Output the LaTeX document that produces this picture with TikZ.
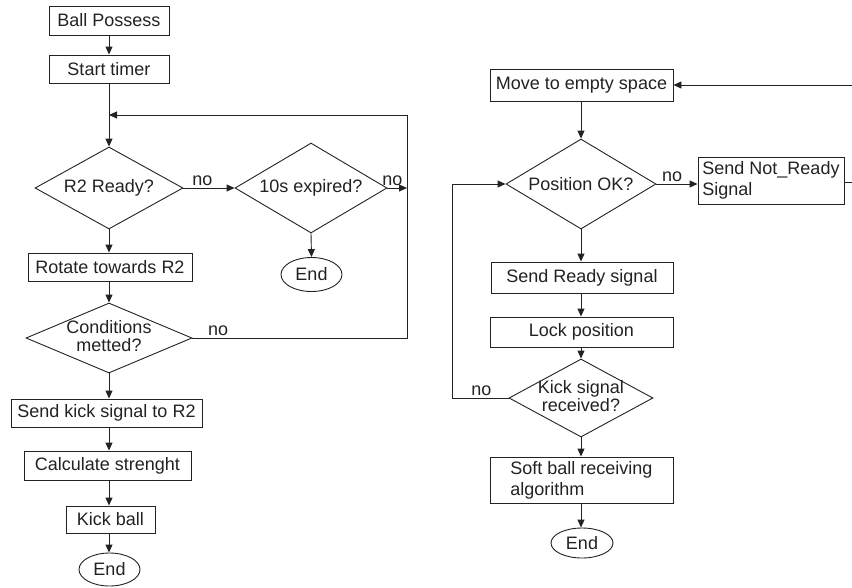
\documentclass[tikz,border=0pt]{standalone}
\usepackage{fontspec}
\setmainfont{Liberation Sans}
\usetikzlibrary{shapes.geometric,arrows.meta}
\definecolor{ink}{HTML}{222222}
\begin{document}
\begin{tikzpicture}[x=1pt,y=-1pt,
  line width=0.9pt, draw=ink, color=ink,
  every node/.style={font=\fontsize{18}{21}\selectfont, text=ink},
  box/.style={draw, rectangle, inner sep=0pt},
  dec/.style={draw, diamond, aspect=2, inner sep=0pt},
  term/.style={draw, ellipse, inner sep=0pt},
  arr/.style={-{Triangle[length=8pt,width=7pt]}},
  lbl/.style={above, inner sep=2pt}]
\useasboundingbox (0,0) rectangle (852,587);
% left flow
\node[box, minimum width=120pt, minimum height=29pt] (bp) at (109,20.5) {Ball Possess};
\node[box, minimum width=120pt, minimum height=28pt] (st) at (109,69) {Start timer};
\node[dec, minimum width=148pt, minimum height=82pt] (r2) at (109,188) {\makebox[0pt]{R2 Ready?}};
\node[dec, minimum width=152pt, minimum height=90pt] (tx) at (311,188) {\makebox[0pt]{10s expired?}};
\node[term, minimum width=61pt, minimum height=34pt] (e1) at (311.5,274.5) {End};
\node[box, minimum width=164pt, minimum height=28pt] (rot) at (110,267) {Rotate towards R2};
\node[dec, minimum width=166pt, minimum height=70pt] (cond) at (109,338) {\makebox[0pt]{\begin{tabular}{@{}c@{}}Conditions\\[-3pt]metted?\end{tabular}}};
\node[box, minimum width=191pt, minimum height=28pt] (ks2) at (106.5,413) {Send kick signal to R2};
\node[box, minimum width=167pt, minimum height=29pt] (calc) at (107.5,465.5) {Calculate strenght};
\node[box, minimum width=89pt, minimum height=27pt] (kb) at (110.5,519.5) {Kick ball};
\node[term, minimum width=61pt, minimum height=33pt] (e2) at (109.5,569.5) {End};
% right flow
\node[box, minimum width=183pt, minimum height=32pt] (mv) at (581.5,85) {Move to empty space};
\node[dec, minimum width=150pt, minimum height=90pt] (pos) at (581,184) {\makebox[0pt]{Position OK?}};
\node[box, minimum width=146pt, minimum height=47pt, align=left] (nr) at (771,180.5) {Send Not\_Ready\\Signal};
\node[box, minimum width=182pt, minimum height=31pt] (sr) at (582,277.5) {Send Ready signal};
\node[box, minimum width=183pt, minimum height=30pt] (lp) at (581.5,332) {Lock position};
\node[dec, minimum width=144pt, minimum height=78pt] (ksr) at (581,398) {\makebox[0pt]{\begin{tabular}{@{}c@{}}Kick signal\\[-3pt]received?\end{tabular}}};
\node[box, minimum width=183pt, minimum height=46pt, align=left] (sb) at (581.5,480) {Soft ball receiving\\algorithm};
\node[term, minimum width=62pt, minimum height=30pt] (e3) at (582,543) {End};
% helper coordinates
\coordinate (j1) at (109,115);
\coordinate (c1) at (407,338);
\coordinate (c2) at (407,115);
\coordinate (c3) at (407,188);
\coordinate (e1r) at (852,85);
\coordinate (e2r) at (852,182);
\coordinate (k1) at (452,398);
\coordinate (k2) at (452,184);
% left connectors
\draw[arr] (bp.south) -- (st.north);
\draw (st.south) -- (j1);
\draw[arr] (j1) -- (r2.north);
\draw (cond.east) -- node[lbl,pos=0.12]{no} (c1) -- (c2);
\draw[arr] (c2) -- (j1);
\draw[arr] (r2.east) -- node[lbl,pos=0.37]{no} (tx.west);
\draw[arr] (tx.east) -- node[lbl,pos=0.25]{no} (c3);
\draw[arr] (tx.south) -- (e1.north);
\draw[arr] (r2.south) -- (r2.south |- rot.north);
\draw[arr] (rot.south -| cond) -- (cond.north);
\draw[arr] (cond.south) -- (cond.south |- ks2.north);
\draw[arr] (ks2.south -| cond) -- (cond |- calc.north);
\draw[arr] (calc.south -| cond) -- (cond |- kb.north);
\draw[arr] (kb.south -| cond) -- (cond |- e2.north);
% right connectors
\draw[arr] (e1r) -- (mv.east);
\draw[arr] (mv.south -| pos) -- (pos.north);
\draw[arr] (pos.east) -- node[lbl,pos=0.38]{no} (pos.east -| nr.west);
\draw (nr.east |- e2r) -- (e2r);
\draw[arr] (pos.south) -- (pos.south |- sr.north);
\draw[arr] (sr.south -| pos) -- (pos |- lp.north);
\draw[arr] (lp.south -| ksr) -- (ksr.north);
\draw[arr] (ksr.west) -- node[lbl,pos=0.48]{no} (k1) -- (k2) -- (pos.west);
\draw[arr] (ksr.south) -- (ksr.south |- sb.north);
\draw[arr] (sb.south -| ksr) -- (ksr |- e3.north);
\end{tikzpicture}
\end{document}
